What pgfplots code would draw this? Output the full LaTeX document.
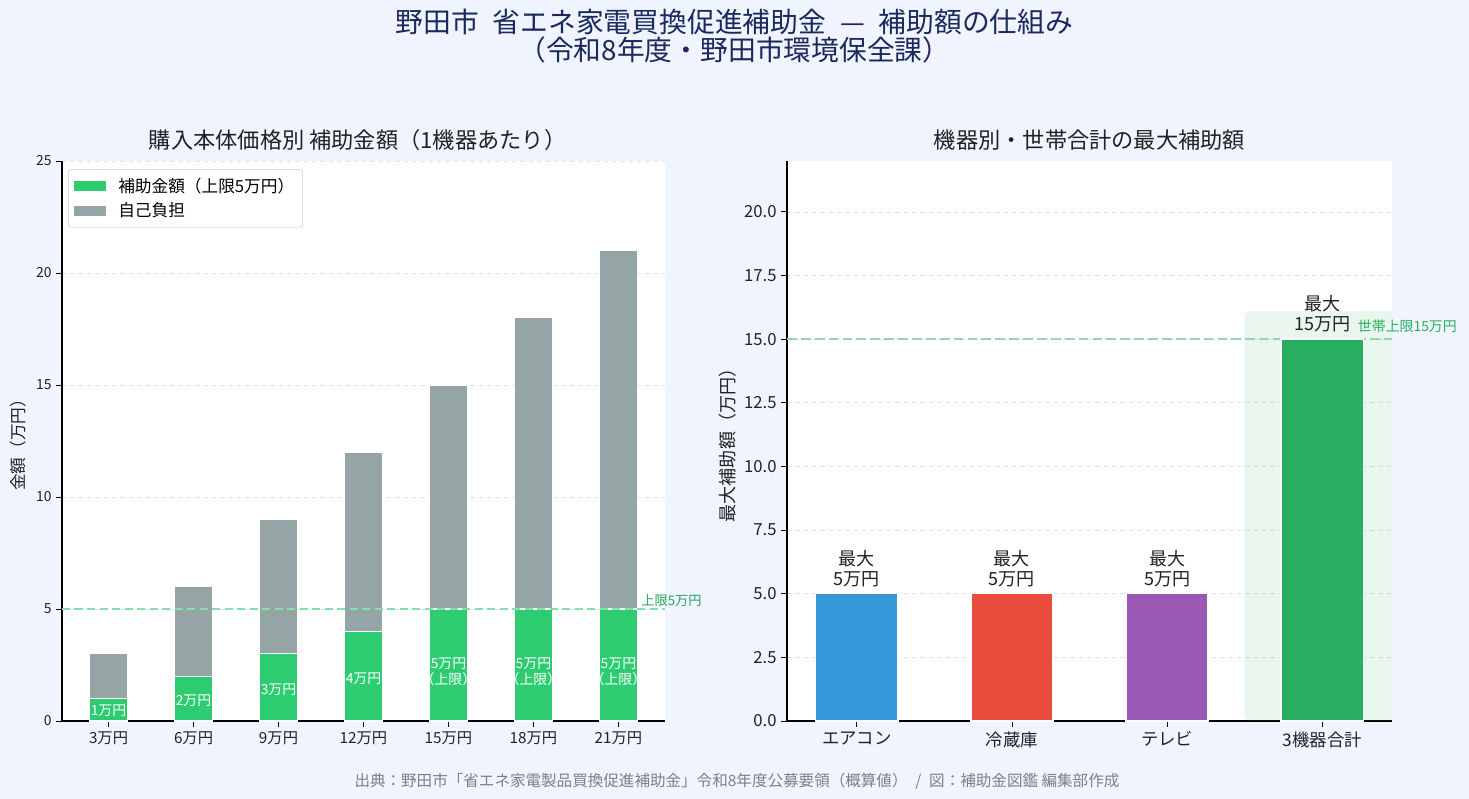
\documentclass[border=0pt]{standalone}
\usepackage{pgfplots}
\pgfplotsset{compat=1.18}
\usepackage{fontspec}
\setmainfont{Noto Sans CJK JP}
\definecolor{bg}{HTML}{F0F4FF}
\definecolor{navy}{HTML}{1A2A5E}
\definecolor{subg}{HTML}{2ECC71}
\definecolor{selfg}{HTML}{95A5A6}
\definecolor{cblue}{HTML}{3498DB}
\definecolor{cred}{HTML}{E74C3C}
\definecolor{cpurp}{HTML}{9B59B6}
\definecolor{cgreen}{HTML}{27AE60}
\definecolor{txt}{HTML}{222222}
\begin{document}
\begin{tikzpicture}
\fill[bg] (0,0) rectangle (1057.68pt,575.28pt);
\useasboundingbox (0,0) rectangle (1057.68pt,575.28pt);
% titles
\node[navy,font=\fontsize{20}{23}\selectfont] at (528.8pt,559.4pt) {野田市\enspace 省エネ家電買換促進補助金\enspace —\enspace 補助額の仕組み};
\node[navy,font=\fontsize{20}{23}\selectfont] at (528.8pt,539.3pt) {（令和8年度・野田市環境保全課）};
\node[txt,font=\fontsize{16}{19}\selectfont] at (257.5pt,474.5pt) {購入本体価格別\ 補助金額（1機器あたり）};
\node[txt,font=\fontsize{16}{19}\selectfont] at (784.4pt,474.5pt) {機器別・世帯合計の最大補助額};
\node[gray,font=\fontsize{11.2}{13}\selectfont] at (530.6pt,12.96pt) {出典：野田市「省エネ家電製品買換促進補助金」令和8年度公募要領（概算値）\enspace /\enspace 図：補助金図鑑\ 編集部作成};
\node[txt,rotate=90,font=\fontsize{12}{14}\selectfont] at (13pt,257.8pt) {金額（万円）};
\node[txt,rotate=90,font=\fontsize{13}{15}\selectfont] at (524.2pt,257.8pt) {最大補助額（万円）};

% LEFT
\begin{axis}[
  at={(44.64pt,56.16pt)}, anchor=south west, scale only axis,
  width=434.16pt, height=403.2pt,
  xmin=-0.5475, xmax=6.5475, ymin=0, ymax=25,
  ybar stacked, bar width=0.45,
  clip=false,
  axis background/.style={fill=white},
  xtick={0,...,6}, xticklabels={3万円,6万円,9万円,12万円,15万円,18万円,21万円},
  ytick={0,5,...,25},
  axis x line*=bottom, axis y line*=left,
  tick align=outside, major tick length=4pt,
  tick style={black, line width=0.6pt},
  axis line style={black, line width=0.8pt},
  ymajorgrids, grid style={dashed, black!12, line width=0.5pt},
  xticklabel style={font=\fontsize{11}{13}\selectfont, text=txt},
  yticklabel style={font=\fontsize{10}{12}\selectfont, text=txt},
  /pgf/number format/assume math mode=true,
  legend style={at={(0.01,0.985)}, anchor=north west, draw=black!20, rounded corners=2pt,
    font=\fontsize{12}{14}\selectfont, fill=white, row sep=2pt, inner sep=4pt},
  legend cell align=left,
]
\draw[subg!60, dashed, dash pattern=on 6pt off 3pt, line width=1.2pt] (axis cs:-0.5475,5) -- (axis cs:6.5475,5);
\addplot[fill=subg, draw=white, line width=1pt,
  legend image code/.code={\fill[subg, draw=none, sharp corners] (0pt,-3.5pt) rectangle (23pt,3.5pt); \path[draw=none] (0pt,0pt) -- (30pt,0pt);}]
  coordinates {(0,1) (1,2) (2,3) (3,4) (4,5) (5,5) (6,5)};
\addplot[fill=selfg, draw=white, line width=1pt,
  legend image code/.code={\fill[selfg, draw=none, sharp corners] (0pt,-3.5pt) rectangle (23pt,3.5pt); \path[draw=none] (0pt,0pt) -- (30pt,0pt);}]
  coordinates {(0,2) (1,4) (2,6) (3,8) (4,10) (5,13) (6,16)};
\legend{補助金額（上限5万円）, 自己負担}
\end{axis}
% overlay for in-bar labels
\begin{axis}[
  at={(44.64pt,56.16pt)}, anchor=south west, scale only axis,
  width=434.16pt, height=403.2pt,
  xmin=-0.5475, xmax=6.5475, ymin=0, ymax=25,
  hide axis, clip=false,
]
\node[white,font=\fontsize{10}{12}\selectfont] at (axis cs:0,0.45) {1万円};
\node[white,font=\fontsize{10}{12}\selectfont] at (axis cs:1,0.9) {2万円};
\node[white,font=\fontsize{10}{12}\selectfont] at (axis cs:2,1.4) {3万円};
\node[white,font=\fontsize{10}{12}\selectfont] at (axis cs:3,1.9) {4万円};
\node[white,align=center,font=\fontsize{10}{11}\selectfont] at (axis cs:4,2.2) {5万円\\（上限）};
\node[white,align=center,font=\fontsize{10}{11}\selectfont] at (axis cs:5,2.2) {5万円\\（上限）};
\node[white,align=center,font=\fontsize{10}{11}\selectfont] at (axis cs:6,2.2) {5万円\\（上限）};
\node[subg!80!black,anchor=south west,font=\fontsize{9.5}{11}\selectfont,inner sep=1pt] at (axis cs:6.25,5.05) {上限5万円};
\end{axis}

% RIGHT
\begin{axis}[
  at={(566.64pt,56.16pt)}, anchor=south west, scale only axis,
  width=435.6pt, height=403.2pt,
  xmin=-0.45, xmax=3.45, ymin=0, ymax=22,
  ybar, bar width=0.53, bar shift=0pt,
  clip=false,
  axis background/.style={fill=white},
  xtick={0,1,2,3}, xticklabels={エアコン,冷蔵庫,テレビ,3機器合計},
  ytick={0,2.5,...,20},
  yticklabel style={/pgf/number format/fixed, /pgf/number format/fixed zerofill, /pgf/number format/precision=1},
  axis x line*=bottom, axis y line*=left,
  tick align=outside, major tick length=4pt,
  tick style={black, line width=0.6pt},
  axis line style={black, line width=0.8pt},
  ymajorgrids, grid style={dashed, black!12, line width=0.5pt},
  xticklabel style={font=\fontsize{12.5}{14}\selectfont, text=txt},
  yticklabel style={font=\fontsize{12}{14}\selectfont, text=txt},
  /pgf/number format/assume math mode=true,
]
\begin{scope}
\clip (rel axis cs:0,0) rectangle (rel axis cs:1,1);
\fill[cgreen, opacity=0.1, rounded corners=4pt] (axis cs:2.5,0) rectangle (axis cs:3.55,16.1);
\end{scope}
\draw[cgreen!50, dashed, dash pattern=on 7pt off 3pt, line width=1.6pt] (axis cs:-0.45,15) -- (axis cs:3.45,15);
\addplot[fill=cblue, draw=white, line width=1pt] coordinates {(0,5)};
\addplot[fill=cred, draw=white, line width=1pt] coordinates {(1,5)};
\addplot[fill=cpurp, draw=white, line width=1pt] coordinates {(2,5)};
\addplot[fill=cgreen, draw=white, line width=1pt] coordinates {(3,15)};
\node[txt,anchor=south,align=center,font=\fontsize{13}{14.5}\selectfont,inner sep=1pt] at (axis cs:0,5.2) {最大\\5万円};
\node[txt,anchor=south,align=center,font=\fontsize{13}{14.5}\selectfont,inner sep=1pt] at (axis cs:1,5.2) {最大\\5万円};
\node[txt,anchor=south,align=center,font=\fontsize{13}{14.5}\selectfont,inner sep=1pt] at (axis cs:2,5.2) {最大\\5万円};
\node[txt,anchor=south,align=center,font=\fontsize{13}{14.5}\selectfont,inner sep=1pt] at (axis cs:3,15.2) {最大\\15万円};
\node[cgreen,anchor=south west,font=\fontsize{10}{12}\selectfont,inner sep=1pt] at (axis cs:3.22,15.2) {世帯上限15万円};
\end{axis}
\end{tikzpicture}
\end{document}
